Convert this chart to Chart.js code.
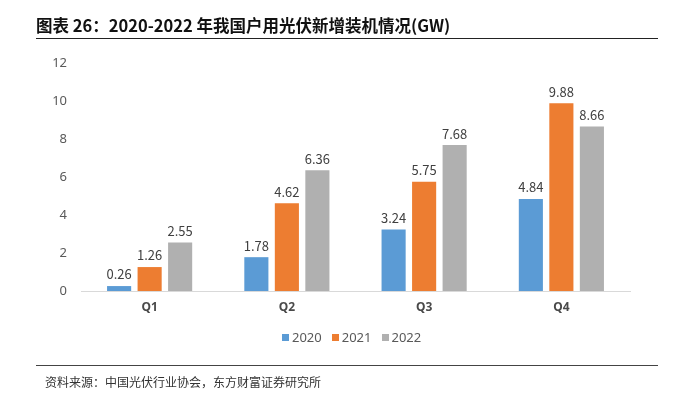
<!DOCTYPE html>
<html>
<head>
<meta charset="utf-8">
<script src="https://cdn.jsdelivr.net/npm/chart.js@4"></script>
<style>
  body { margin: 0; background: #fff; }
  #wrap { position: relative; width: 676px; height: 397px; font-family: "Noto Sans CJK SC", sans-serif; }
  #titulo { position: absolute; left: 36px; top: 13px; font-size: 16.5px; font-weight: bold; color: #111; white-space: nowrap; }
  #linha-topo { position: absolute; left: 36px; top: 38px; width: 622px; height: 0; border-top: 1.5px solid #222; }
  #linha-base { position: absolute; left: 36px; top: 365px; width: 622px; height: 0; border-top: 1.5px solid #444; }
  #fonte { position: absolute; left: 45px; top: 373px; font-size: 12px; color: #333; white-space: nowrap; }
  #area { position: absolute; left: 0; top: 0; width: 676px; height: 397px; }
  #legenda { position: absolute; left: 282px; top: 328px; font-family: "Noto Sans", sans-serif; font-size: 13px; color: #595959; white-space: nowrap; display: flex; }
  #legenda span.item { display: flex; align-items: center; margin-right: 10px; }
  #legenda span.caixa { display: inline-block; width: 7px; height: 7px; margin-right: 3px; }
</style>
</head>
<body>
<div id="wrap">
  <div id="area"><canvas id="chart-instalacoes"></canvas></div>
  <div id="titulo">图表 26：2020-2022 年我国户用光伏新增装机情况(GW)</div>
  <div id="linha-topo"></div>
  <div id="legenda"></div>
  <div id="linha-base"></div>
  <div id="fonte">资料来源：中国光伏行业协会，东方财富证券研究所</div>
</div>
<script>
// dados
const trimestres = ["Q1", "Q2", "Q3", "Q4"];
const anos = ["2020", "2021", "2022"];
const valores2020 = [0.26, 1.78, 3.24, 4.84];
const valores2021 = [1.26, 4.62, 5.75, 9.88];
const valores2022 = [2.55, 6.36, 7.68, 8.66];
const cores = ["#5B9BD5", "#ED7D31", "#B0B0B0"];

// rótulos por cima das barras
const rotulosPlugin = {
  id: "rotulos",
  afterDatasetsDraw(chart) {
    const ctx = chart.ctx;
    ctx.save();
    ctx.font = "13px 'Noto Sans CJK SC', sans-serif";
    ctx.fillStyle = "#404040";
    ctx.textAlign = "center";
    ctx.textBaseline = "bottom";
    chart.data.datasets.forEach((ds, i) => {
      chart.getDatasetMeta(i).data.forEach((bar, j) => {
        ctx.fillText(ds.data[j].toFixed(2), bar.x, bar.y - 5);
      });
    });
    ctx.restore();
  }
};

const series = [valores2020, valores2021, valores2022];

const grafico = new Chart(document.getElementById("chart-instalacoes").getContext("2d"), {
  type: "bar",
  data: {
    labels: trimestres,
    datasets: anos.map((ano, i) => ({
      label: ano,
      data: series[i],
      backgroundColor: cores[i],
      barPercentage: 0.79,
      categoryPercentage: 0.667
    }))
  },
  options: {
    responsive: true,
    maintainAspectRatio: false,
    animation: false,
    layout: { padding: { left: 30, right: 46, top: 63, bottom: 76 } },
    plugins: {
      legend: { display: false },
      tooltip: { enabled: false }
    },
    scales: {
      x: {
        grid: { display: false, drawTicks: false },
        border: { color: "#D9D9D9", width: 1 },
        ticks: { color: "#4a4a4a", padding: 9, font: { size: 12, weight: "bold", family: "'Noto Sans', sans-serif" } },
        afterFit: (s) => { s.height = 30; }
      },
      y: {
        min: 0,
        max: 12,
        grid: { display: false, drawTicks: false },
        border: { display: false },
        ticks: { stepSize: 2, color: "#595959", padding: 14, font: { size: 13, family: "'Noto Sans', sans-serif" } },
        afterFit: (s) => { s.width = 51; }
      }
    }
  },
  plugins: [rotulosPlugin]
});

// legenda em HTML a partir dos datasets
const legenda = document.getElementById("legenda");
grafico.data.datasets.forEach(ds => {
  const item = document.createElement("span");
  item.className = "item";
  const caixa = document.createElement("span");
  caixa.className = "caixa";
  caixa.style.background = ds.backgroundColor;
  item.appendChild(caixa);
  item.appendChild(document.createTextNode(ds.label));
  legenda.appendChild(item);
});
</script>
</body>
</html>
